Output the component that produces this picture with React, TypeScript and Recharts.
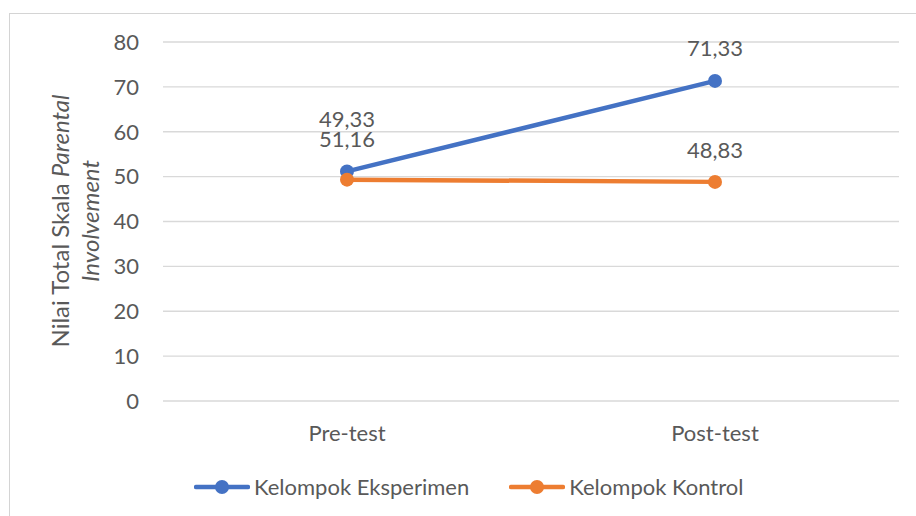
import React from 'react';
import { LineChart, Line, XAxis, YAxis, CartesianGrid, LabelList } from 'recharts';

const categories = ['Pre-test', 'Post-test'];
const eksperimen = [51.16, 71.33];
const kontrol = [49.33, 48.83];
const yTicks = [0, 10, 20, 30, 40, 50, 60, 70, 80];
const seriesNames = ['Kelompok Eksperimen', 'Kelompok Kontrol'];
const seriesColors = ['#4472C4', '#ED7D31'];

const data = categories.map((c, i) => ({ name: c, eksperimen: eksperimen[i], kontrol: kontrol[i] }));

const FONT = 'Lato, "Open Sans", sans-serif';
const TXT = '#595959';
const FS = 22;

const fmt = (v: number) => v.toFixed(2).replace('.', ',');

const makeLabel = (offsets: number[]) => (props: any) => {
  const { x, y, value, index } = props;
  const off = offsets[index] ?? 32;
  return (
    <text x={x} y={y - off} textAnchor="middle" dominantBaseline="central" fill={TXT} fontSize={FS} fontFamily={FONT}>
      {fmt(Number(value))}
    </text>
  );
};

const LegendBlock = () => (
  <div style={{ position: 'absolute', left: 194, top: 473, display: 'flex', alignItems: 'center', fontFamily: FONT, fontSize: FS, color: TXT, whiteSpace: 'nowrap' }}>
    {seriesNames.map((n, i) => (
      <div key={n} style={{ display: 'flex', alignItems: 'center', marginRight: i === 0 ? 40 : 0 }}>
        <svg width={56} height={16} style={{ marginRight: 4 }}>
          <line x1={2} y1={8} x2={54} y2={8} stroke={seriesColors[i]} strokeWidth={4.5} strokeLinecap="round" />
          <circle cx={28} cy={8} r={7} fill={seriesColors[i]} />
        </svg>
        <span>{n}</span>
      </div>
    ))}
  </div>
);

export default function App() {
  return (
    <div style={{ position: 'absolute', left: 0, top: 0, width: 916, height: 516, background: '#fff', overflow: 'hidden' }}>
      <div style={{ position: 'absolute', left: 9, top: 13, width: 1000, height: 600, borderLeft: '1px solid #d4d4d4', borderTop: '1px solid #d4d4d4' }} />
      <div style={{ position: 'absolute', left: 0, top: 0 }}>
        <LineChart width={916} height={516} data={data} margin={{ top: 42, right: 17, bottom: 75, left: 103 }}>
          <CartesianGrid vertical={false} stroke="#D9D9D9" strokeWidth={1.3} />
          <XAxis dataKey="name" height={40} padding={{ left: 184, right: 184 }} axisLine={false} tickLine={false} tickSize={0} tickMargin={24}
            tick={{ fill: TXT, fontSize: FS, fontFamily: FONT }} />
          <YAxis width={60} domain={[0, 80]} ticks={yTicks} axisLine={false} tickLine={false} tickSize={0} tickMargin={24}
            tick={{ fill: TXT, fontSize: FS, fontFamily: FONT }}
            label={{
              content: () => (
                <text transform="translate(69,221) rotate(-90)" fill={TXT} fontSize={24} fontFamily={FONT} textAnchor="middle">
                  <tspan x={0} y={0}>Nilai Total Skala <tspan fontStyle="italic">Parental</tspan></tspan>
                  <tspan x={0} y={30} fontStyle="italic">Involvement</tspan>
                </text>
              ),
            }} />
          <Line type="linear" dataKey="eksperimen" name={seriesNames[0]} stroke={seriesColors[0]} strokeWidth={4.5}
            dot={{ r: 7, fill: seriesColors[0], stroke: 'none' }} isAnimationActive={false}>
            <LabelList dataKey="eksperimen" content={makeLabel([32.5, 33])} />
          </Line>
          <Line type="linear" dataKey="kontrol" name={seriesNames[1]} stroke={seriesColors[1]} strokeWidth={4.5}
            dot={{ r: 7, fill: seriesColors[1], stroke: 'none' }} isAnimationActive={false}>
            <LabelList dataKey="kontrol" content={makeLabel([61, 32])} />
          </Line>
        </LineChart>
      </div>
      <LegendBlock />
    </div>
  );
}
